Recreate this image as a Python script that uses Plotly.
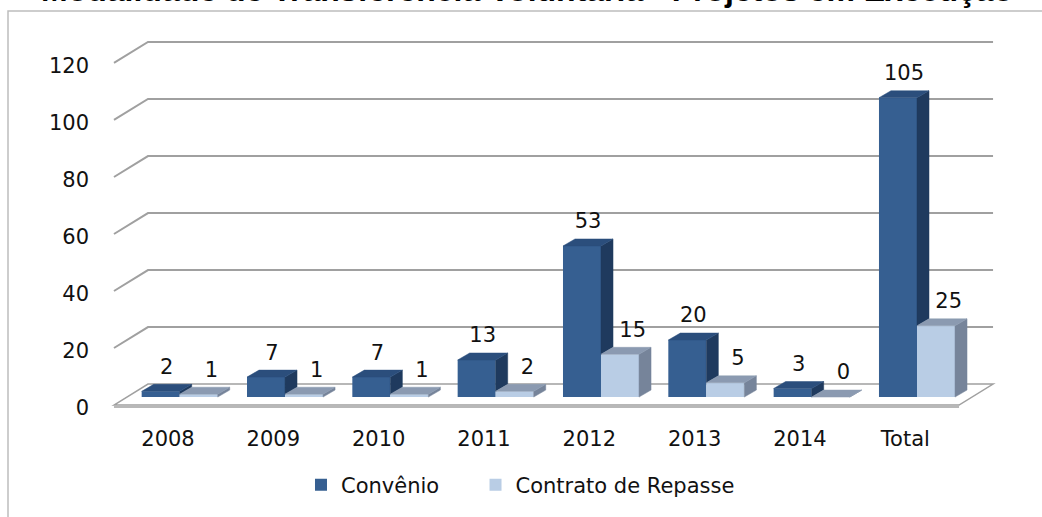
import plotly.graph_objects as go

# ---------------- data ----------------
categories = ["2008", "2009", "2010", "2011", "2012", "2013", "2014", "Total"]
convenio = [2, 7, 7, 13, 53, 20, 3, 105]
contrato = [1, 1, 1, 2, 15, 5, 0, 25]
y_ticks = [0, 20, 40, 60, 80, 100, 120]
series_names = ["Convênio", "Contrato de Repasse"]
title_text = "Modalidade de Transferência Voluntária - Projetos em Execução"

# ---------------- geometry / style ----------------
BAR_W = 0.361            # width of one bar (category units)
DX, DY = 0.114, 2.45     # bar depth offset (x units, value units)
FRONT_DY, BACK_DY = -2.80, 4.55   # floor/grid front & back offsets (value units)
FRONT_LEFT, BACK_LEFT, BACK_RIGHT = -0.624, -0.301, 7.722
FRONT_RIGHT = BACK_RIGHT - (BACK_LEFT - FRONT_LEFT)
LABEL_DY = -1.0          # small downward nudge of y tick labels

CONV_FRONT, CONV_TOP, CONV_SIDE = "#365F91", "#2B4E7C", "#1F3A5E"
CONT_FRONT, CONT_TOP, CONT_SIDE = "#B9CDE5", "#8B9AB1", "#76849A"
GRID = "#A0A0A0"
TXT = "#111111"
FONT = "DejaVu Sans"
FS = 21

idx = list(range(len(categories)))

fig = go.Figure()

# front faces (real bars)
fig.add_trace(go.Bar(x=idx, y=convenio, name=series_names[0], legend="legend",
                     marker=dict(color=CONV_FRONT, line=dict(width=0))))
fig.add_trace(go.Bar(x=idx, y=contrato, name=series_names[1], legend="legend2",
                     marker=dict(color=CONT_FRONT, line=dict(width=0))))


def poly_trace(xs, ys, color):
    return go.Scatter(x=xs, y=ys, mode="lines", fill="toself", fillcolor=color,
                      line=dict(color=color, width=0.5), showlegend=False,
                      hoverinfo="skip")


# Convênio top & visible side faces
tx, ty, sx, sy = [], [], [], []
for i, v, v2 in zip(idx, convenio, contrato):
    xl = i - BAR_W
    tx += [xl, xl + DX, xl + BAR_W + DX, xl + BAR_W, xl, None]
    ty += [v, v + DY, v + DY, v, v, None]
    low = min(v2, v)
    sx += [i, i + DX, i + DX, i, i, None]
    sy += [low, low + DY, v + DY, v, low, None]
fig.add_trace(poly_trace(sx, sy, CONV_SIDE))
fig.add_trace(poly_trace(tx, ty, CONV_TOP))

# Contrato top & side faces
tx, ty, sx, sy = [], [], [], []
for i, v2 in zip(idx, contrato):
    xl = i
    tx += [xl, xl + DX, xl + BAR_W + DX, xl + BAR_W, xl, None]
    ty += [v2, v2 + DY, v2 + DY, v2, v2, None]
    xr = xl + BAR_W
    sx += [xr, xr + DX, xr + DX, xr, xr, None]
    sy += [0, DY, v2 + DY, v2, 0, None]
fig.add_trace(poly_trace(sx, sy, CONT_SIDE))
fig.add_trace(poly_trace(tx, ty, CONT_TOP))

# data labels
fig.add_trace(go.Scatter(x=[i - BAR_W / 2 + 0.057 for i in idx],
                         y=[v + 8 for v in convenio],
                         text=[str(v) for v in convenio], mode="text",
                         textfont=dict(family=FONT, size=FS, color=TXT),
                         showlegend=False, hoverinfo="skip"))
fig.add_trace(go.Scatter(x=[i + BAR_W / 2 + 0.12 for i in idx],
                         y=[v + 8 for v in contrato],
                         text=[str(v) for v in contrato], mode="text",
                         textfont=dict(family=FONT, size=FS, color=TXT),
                         showlegend=False, hoverinfo="skip"))

# gridlines and floor (below traces)
shapes = []
shapes.append(dict(type="path", xref="x", yref="y", layer="below",
                   path=(f"M{FRONT_LEFT},{FRONT_DY} L{BACK_LEFT},{BACK_DY} "
                         f"L{BACK_RIGHT},{BACK_DY} L{FRONT_RIGHT},{FRONT_DY} Z"),
                   fillcolor="white", line=dict(color=GRID, width=1.5)))
shapes.append(dict(type="line", xref="x", yref="y", layer="below",
                   x0=FRONT_LEFT, x1=FRONT_RIGHT, y0=FRONT_DY - 0.5, y1=FRONT_DY - 0.5,
                   line=dict(color="#B8B8B8", width=3)))
for g in y_ticks[1:]:
    shapes.append(dict(type="path", xref="x", yref="y", layer="below",
                       path=(f"M{FRONT_LEFT},{g + FRONT_DY} L{BACK_LEFT},{g + BACK_DY} "
                             f"L{BACK_RIGHT},{g + BACK_DY}"),
                       line=dict(color=GRID, width=2)))
# chart border
shapes.append(dict(type="rect", xref="paper", yref="paper", layer="below",
                   x0=-0.1146, x1=1.2, y0=-0.5, y1=1.0491,
                   line=dict(color="#BDBDBD", width=1.5)))

legend_common = dict(orientation="h", xanchor="left", y=-0.176, yanchor="middle",
                     font=dict(family=FONT, size=FS, color=TXT),
                     bgcolor="rgba(0,0,0,0)", borderwidth=0)

fig.update_layout(
    width=1042, height=517,
    margin=dict(l=110, r=42, t=30, b=100),
    paper_bgcolor="white", plot_bgcolor="white",
    barmode="group", bargap=1 - 2 * BAR_W, bargroupgap=0,
    font=dict(family=FONT, size=FS, color=TXT),
    shapes=shapes,
    showlegend=True,
    legend=dict(x=0.2146, **legend_common),
    legend2=dict(x=0.4107, **legend_common),
    annotations=[dict(text=f"<b>{title_text}</b>", xref="paper", yref="paper",
                      x=0.469, y=1.1034, xanchor="center", yanchor="middle",
                      showarrow=False,
                      font=dict(family="Liberation Sans, Arial", size=32,
                                color="black"))],
)
fig.update_xaxes(range=[-0.6617, 7.788], tickvals=[i - 0.111 for i in idx],
                 ticktext=categories, showgrid=False, zeroline=False,
                 showline=False, ticks="", ticklabelstandoff=8, fixedrange=True,
                 automargin=False)
fig.update_yaxes(range=[-6.648, 128.76],
                 tickvals=[g + FRONT_DY + LABEL_DY for g in y_ticks],
                 ticktext=[str(g) for g in y_ticks], showgrid=False, zeroline=False,
                 showline=False, ticks="", ticklabelstandoff=20, fixedrange=True,
                 automargin=False)

# the page's default 8px body margin would shift the chart; remove it
fig.write_html("out.html", config={"displayModeBar": False},
               post_script="document.body.style.margin='0px';")
